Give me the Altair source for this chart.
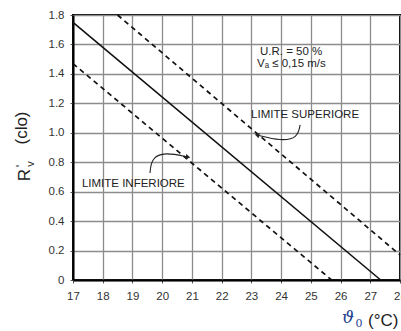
import altair as alt
import pandas as pd

# Series
solid_x = [17.0, 27.35]
solid_y = [1.75, 0.0]
upper_x = [18.5, 28.0]
upper_y = [1.80, 0.17]
lower_x = [17.0, 25.7]
lower_y = [1.47, 0.0]

# Axis ticks
x_ticks = [17, 18, 19, 20, 21, 22, 23, 24, 25, 26, 27, 28]
y_ticks = [0, 0.2, 0.4, 0.6, 0.8, 1.0, 1.2, 1.4, 1.6, 1.8]

# Annotation texts and anchor points (data units)
ann_text = ["U.R. = 50 %", "Vₐ ≤ 0,15 m/s", "LIMITE  SUPERIORE", "LIMITE  INFERIORE"]
ann_x = [23.29, 23.19, 22.99, 17.30]
ann_y = [1.549, 1.467, 1.121, 0.652]

# Curved leader arrows (data units)
arrow_up_x = [24.64, 24.55, 24.0, 23.19]
arrow_up_y = [1.053, 0.964, 0.944, 0.985]
arrow_lo_x = [19.59, 19.64, 20.09, 20.87]
arrow_lo_y = [0.727, 0.829, 0.869, 0.835]

W, H = 327, 265
FONT = "Liberation Sans"

xs = alt.Scale(domain=[17, 28], nice=False, zero=False)
ys = alt.Scale(domain=[0, 1.8], nice=False, zero=False)

xaxis = alt.Axis(values=x_ticks, title=None, grid=True, gridColor="#8c8c8c", gridWidth=1.3,
                 domainColor="black", domainWidth=2, tickColor="#555", tickSize=3,
                 labelFont=FONT, labelFontSize=11.5, labelColor="#333", labelPadding=7,
                 labelFlush=False, labelOverlap=False, tickCount=12)
yaxis = alt.Axis(values=y_ticks, title=None, grid=True, gridColor="#8c8c8c", gridWidth=1.3,
                 domainColor="black", domainWidth=2, tickColor="#555", tickSize=3,
                 labelFont=FONT, labelFontSize=11.5, labelColor="#333", labelPadding=6,
                 labelOverlap=False, tickCount=10,
                 labelExpr="datum.value == 0 ? '0' : format(datum.value, '.1f')")

def X():
    return alt.X("x:Q", scale=xs, axis=xaxis)

def Y():
    return alt.Y("y:Q", scale=ys, axis=yaxis)

def line_df(xv, yv):
    return pd.DataFrame({"x": xv, "y": yv})

solid = alt.Chart(line_df(solid_x, solid_y)).mark_line(color="#111", strokeWidth=1.6).encode(x=X(), y=Y())
upper = alt.Chart(line_df(upper_x, upper_y)).mark_line(color="#111", strokeWidth=1.7, strokeDash=[5, 4]).encode(x=X(), y=Y())
lower = alt.Chart(line_df(lower_x, lower_y)).mark_line(color="#111", strokeWidth=1.7, strokeDash=[5, 4]).encode(x=X(), y=Y())

arr_up = alt.Chart(line_df(arrow_up_x, arrow_up_y)).mark_line(color="#222", strokeWidth=1.1, interpolate="basis").encode(x=X(), y=Y())
arr_lo = alt.Chart(line_df(arrow_lo_x, arrow_lo_y)).mark_line(color="#222", strokeWidth=1.1, interpolate="basis").encode(x=X(), y=Y())

head_up = alt.Chart(line_df(arrow_up_x[-1:], arrow_up_y[-1:])).mark_point(
    shape="triangle-left", filled=True, color="#222", size=28, angle=15, opacity=1).encode(x=X(), y=Y())
head_lo = alt.Chart(line_df(arrow_lo_x[-1:], arrow_lo_y[-1:])).mark_point(
    shape="triangle-right", filled=True, color="#222", size=28, angle=12, opacity=1).encode(x=X(), y=Y())

ann = alt.Chart(pd.DataFrame({"x": ann_x, "y": ann_y, "t": ann_text})).mark_text(
    align="left", baseline="middle", font=FONT, fontSize=11.5, color="#222").encode(
    x=X(), y=Y(), text="t:N")

# Axis titles as free text
def free_text(t, px, py, **kw):
    return alt.Chart(pd.DataFrame({"t": [t]})).mark_text(**kw).encode(
        x=alt.value(px), y=alt.value(py), text="t:N")

y_clo = free_text("(clo)", -51, 113, angle=270, align="center", baseline="middle",
                  font=FONT, fontSize=17, color="#222")
y_R = free_text("R", -48, 160, angle=270, align="center", baseline="middle",
                font=FONT, fontSize=17, color="#222")
y_prime = free_text("'", -52, 151, angle=270, align="center", baseline="middle",
                    font=FONT, fontSize=13, color="#222")
y_sub = free_text("v", -42, 149, angle=270, align="center", baseline="middle",
                  font=FONT, fontSize=11, color="#222")

theta = free_text("ϑ", 275, 303, align="center", baseline="middle", font="DejaVu Serif",
                  fontStyle="italic", fontSize=17, color="#1f3f8f")
theta_sub = free_text("0", 286, 309, align="center", baseline="middle", font="DejaVu Serif",
                      fontSize=11, color="#1f3f8f")
unit = free_text("(°C)", 295, 306, align="left", baseline="middle", font=FONT,
                 fontSize=17, color="#222")

chart = alt.layer(lower, upper, solid, arr_up, arr_lo, head_up, head_lo, ann,
                  y_clo, y_R, y_prime, y_sub, theta, theta_sub, unit).properties(
    width=W, height=H,
    autosize=alt.AutoSizeParams(type="none"),
    padding={"left": 73, "top": 15, "right": 1, "bottom": 51},
    background="white",
).configure_view(stroke="black", strokeWidth=2)

chart.save("out.html", embed_options={"renderer": "svg", "actions": False})
